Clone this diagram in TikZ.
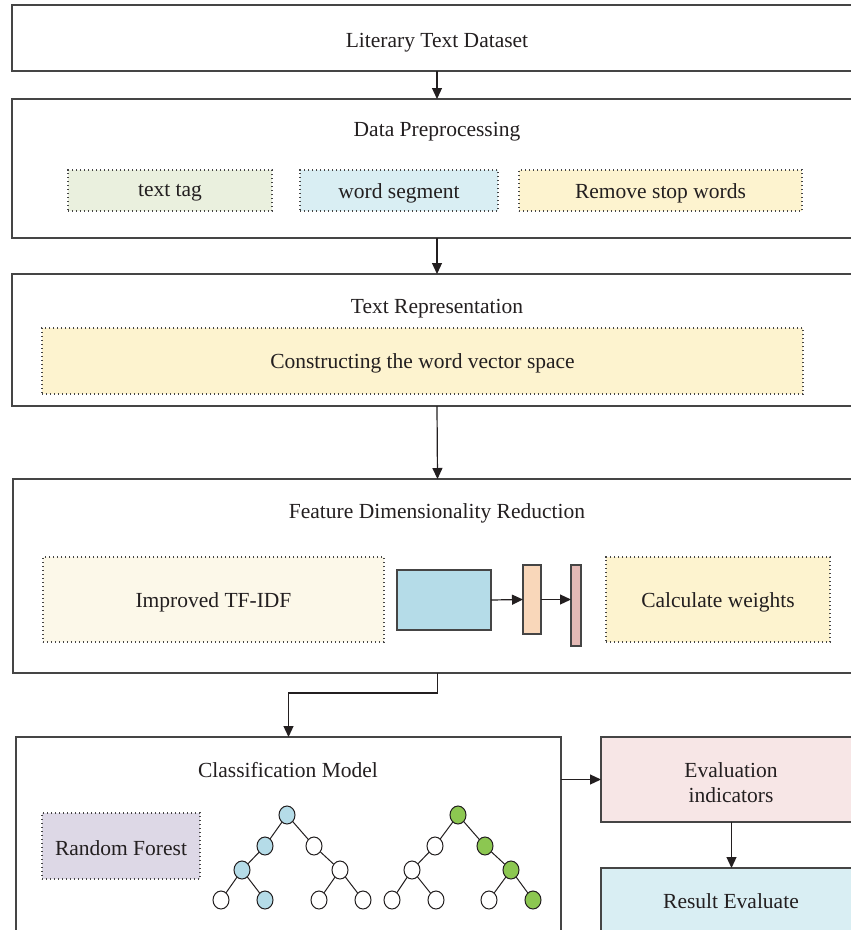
\documentclass[tikz,border=0pt]{standalone}
\usepackage{fontspec}
\setmainfont{Liberation Serif}
\usetikzlibrary{arrows.meta,shapes.geometric}
\definecolor{lineC}{HTML}{454545}
\definecolor{txtC}{HTML}{231F20}
\definecolor{fGreen}{HTML}{EAF0DE}
\definecolor{fBlue}{HTML}{D9EEF3}
\definecolor{fYellow}{HTML}{FDF3CF}
\definecolor{fCream}{HTML}{FCF8E9}
\definecolor{fLav}{HTML}{DDD8E6}
\definecolor{fPink}{HTML}{F7E6E6}
\definecolor{rBlue}{HTML}{B5DCE8}
\definecolor{rOrange}{HTML}{F9D7BA}
\definecolor{rPink}{HTML}{E4B9B5}
\definecolor{nGreen}{HTML}{8CC751}
\tikzset{
  base/.style={inner sep=0pt, outer sep=0pt},
  outerbox/.style={base, draw=lineC, line width=1.5pt, fill=white},
  dotbox/.style={base, draw=lineC, line width=1.4pt, dash pattern=on 1.4pt off 2.6pt},
  solidrect/.style={base, draw=lineC, line width=1.2pt},
  ttl/.style={inner sep=0pt, outer sep=0pt, text=txtC, font=\fontsize{21.5}{25}\selectfont, yshift=-2.5pt},
  arr/.style={draw=txtC, line width=1.2pt, -{Triangle[length=11pt,width=10pt]}},
  tn/.style={ellipse, draw=txtC, line width=1pt, minimum width=16pt, minimum height=18pt, inner sep=0pt, outer sep=0pt, fill=white},
  tb/.style={tn, fill=rBlue},
  tg/.style={tn, fill=nGreen},
  te/.style={draw=txtC, line width=1pt}
}
\newcommand{\boxat}[6]{%
  \node[#2, minimum width={(#5-#3)*1pt}, minimum height={(#6-#4)*1pt}] (#1) at ({(#3+#5)/2},{(#4+#6)/2}) {};}
\begin{document}
\begin{tikzpicture}[x=1pt,y=-1pt]
\useasboundingbox (0,0) rectangle (851,930);
\clip (0,0) rectangle (851,930);
\fill[white] (0,0) rectangle (851,930);

% Box 1
\boxat{b1}{outerbox}{12}{5}{862}{71}
\node[ttl] (t1) at (437,40) {Literary Text Dataset};

% Box 2
\boxat{b2}{outerbox}{12}{99}{862}{238}
\node[ttl] (t2) at (437,129) {Data Preprocessing};
\boxat{tt}{dotbox,fill=fGreen}{68}{170}{272}{211}
\node[ttl] at (tt) {text tag};
\boxat{ws}{dotbox,fill=fBlue}{300}{170}{498}{211}
\node[ttl] at (ws) {word segment};
\boxat{rs}{dotbox,fill=fYellow}{519}{170}{802}{211}
\node[ttl] at (rs) {Remove stop words};

% Box 3
\boxat{b3}{outerbox}{12}{274}{862}{406}
\node[ttl] (t3) at (437,306) {Text Representation};
\boxat{cv}{dotbox,fill=fYellow}{42}{328}{803}{394}
\node[ttl] at (cv) {Constructing the word vector space};

% Box 4
\boxat{b4}{outerbox}{13}{479}{862}{673}
\node[ttl] (t4) at (437,511) {Feature Dimensionality Reduction};
\boxat{tf}{dotbox,fill=fCream}{43}{557}{384}{642}
\node[ttl] at (tf) {Improved TF-IDF};
\boxat{bl}{solidrect,fill=rBlue}{397}{570}{491}{630}
\boxat{or}{solidrect,fill=rOrange}{523}{565}{541}{634}
\boxat{pk}{solidrect,fill=rPink}{571}{565}{581}{646}
\boxat{cw}{dotbox,fill=fYellow}{606}{557}{830}{642}
\node[ttl] at (cw) {Calculate weights};
\draw[arr] (bl.east) -- (or.west);
\draw[arr] (or.east) -- (or.east -| pk.west);

% Box 5
\boxat{b5}{outerbox}{16}{737}{561}{945}
\node[ttl] (t5) at (288,768) {Classification Model};
\boxat{rf}{dotbox,fill=fLav}{42}{813}{200}{879}
\node[ttl] at (rf) {Random Forest};

% Evaluation boxes
\boxat{ev}{outerbox,fill=fPink}{601}{737}{862}{822}
\node[ttl, align=center] at (731,780) {Evaluation\\indicators};
\boxat{re}{outerbox,fill=fBlue}{601}{868}{862}{932}
\node[ttl] at (731,899) {Result Evaluate};

% Main arrows
\draw[arr] (b1.south) -- (b2.north);
\draw[arr] (b2.south) -- (b3.north);
\draw[arr] (b3.south) -- (b4.north);
\draw[arr] (b4.south) -- ++(0,20) -| (b5.north);
\draw[arr] (ev.west -| b5.east) -- (ev.west);
\draw[arr] (ev.south) -- (re.north);

% Tree 1
\node[tb] (a0) at (287,815) {};
\node[tb] (a1) at (265,846) {};
\node[tn] (a2) at (314,846) {};
\node[tb] (a3) at (242,870) {};
\node[tn] (a4) at (340,870) {};
\node[tn] (a5) at (221,900) {};
\node[tb] (a6) at (265,900) {};
\node[tn] (a7) at (319,900) {};
\node[tn] (a8) at (363,900) {};
\draw[te] (a0) -- (a1); \draw[te] (a0) -- (a2);
\draw[te] (a1) -- (a3); \draw[te] (a2) -- (a4);
\draw[te] (a3) -- (a5); \draw[te] (a3) -- (a6);
\draw[te] (a4) -- (a7); \draw[te] (a4) -- (a8);

% Tree 2
\node[tg] (g0) at (458,815) {};
\node[tn] (g1) at (435,846) {};
\node[tg] (g2) at (485,846) {};
\node[tn] (g3) at (412,870) {};
\node[tg] (g4) at (511,870) {};
\node[tn] (g5) at (392,900) {};
\node[tn] (g6) at (436,900) {};
\node[tn] (g7) at (489,900) {};
\node[tg] (g8) at (533,900) {};
\draw[te] (g0) -- (g1); \draw[te] (g0) -- (g2);
\draw[te] (g1) -- (g3); \draw[te] (g2) -- (g4);
\draw[te] (g3) -- (g5); \draw[te] (g3) -- (g6);
\draw[te] (g4) -- (g7); \draw[te] (g4) -- (g8);
\end{tikzpicture}
\end{document}
